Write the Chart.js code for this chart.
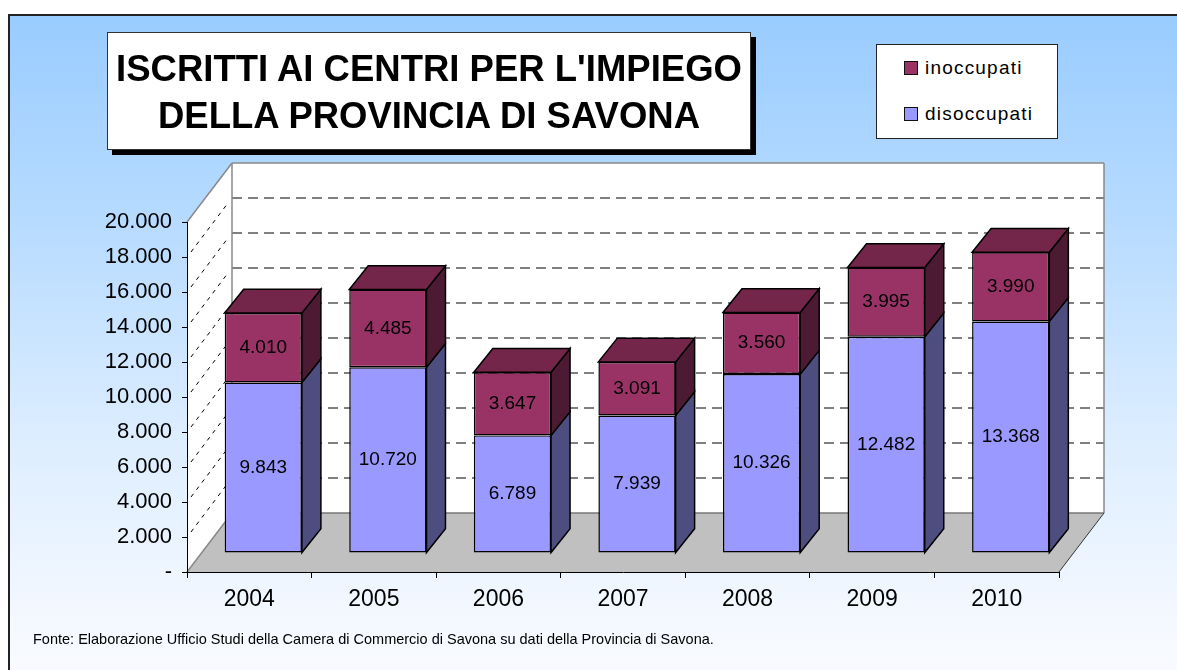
<!DOCTYPE html>
<html>
<head>
<meta charset="utf-8">
<script src="https://cdn.jsdelivr.net/npm/chart.js@4.4.0/dist/chart.umd.min.js"></script>
<style>
  html, body { margin: 0; padding: 0; background: #fff; }
  body { width: 1177px; height: 670px; position: relative; overflow: hidden;
         font-family: "Liberation Sans", Arial, sans-serif; }
  #frame { position: absolute; left: 8px; top: 14px; width: 1200px; height: 700px;
           border-left: 2px solid #222; border-top: 2px solid #222;
           background: linear-gradient(to bottom, #99ccff 0px, #b9dcff 220px, #dcedff 420px, #f6f9ff 620px, #fbfcff 700px); }
  #chart { position: absolute; left: 0; top: 0; }
  #title { position: absolute; left: 107px; top: 32px; width: 642px;
           background: #fff; border: 1px solid #333; box-shadow: 5px 5px 0 #000;
           text-align: center; font-weight: bold; font-size: 36.5px; line-height: 47px;
           padding-top: 12px; box-sizing: content-box; height: 104px; color: #000; }
  #legend { position: absolute; left: 876px; top: 44px; width: 180px; height: 93px;
            background: #fff; border: 1px solid #222; }
  .item { position: absolute; left: 27px; height: 20px; font-size: 19px; letter-spacing: 1.2px;
          line-height: 20px; color: #000; }
  .item span.sw { position: absolute; left: 0; top: 3px; width: 12px; height: 12px; border: 1.5px solid #111; }
  .item span.tx { position: absolute; left: 21px; top: 0; white-space: nowrap; }
  #fonte { position: absolute; left: 33px; top: 631px; font-size: 14.5px; color: #000; white-space: nowrap; }
</style>
</head>
<body>
<div id="frame"></div>
<canvas id="chart" width="1177" height="670"></canvas>
<div id="title">ISCRITTI AI CENTRI PER L'IMPIEGO<br>DELLA PROVINCIA DI SAVONA</div>
<div id="legend">
  <div class="item" style="top:13px"><span class="sw" style="background:#993366"></span><span class="tx">inoccupati</span></div>
  <div class="item" style="top:59px"><span class="sw" style="background:#9999ff"></span><span class="tx">disoccupati</span></div>
</div>
<div id="fonte">Fonte: Elaborazione Ufficio Studi della Camera di Commercio di Savona su dati della Provincia di Savona.</div>
<script>
// dati
const years = ['2004', '2005', '2006', '2007', '2008', '2009', '2010'];
const disoccupati = [9843, 10720, 6789, 7939, 10326, 12482, 13368];
const inoccupati = [4010, 4485, 3647, 3091, 3560, 3995, 3990];
const yMax = 20000;
const yStep = 2000;

// colori
const BLUE = '#9999ff', BLUE_SIDE = '#4d4d80';
const MAROON = '#993366', MAROON_SIDE = '#4d1a33', MAROON_TOP = '#732649';
const FONT = '"Liberation Sans", Arial, sans-serif';

// profondita' 3D (pareti e barre)
const WALL_DX = 45, WALL_DY = -59;
const BAR_DX = 14, BAR_DY = -19, BAR_SY = 0.99;
const DEPTH_DX = 19, DEPTH_DY = -24;

function fmt(v) {
  if (v === 0) return '-';
  return String(v).replace(/\B(?=(\d{3})+(?!\d))/g, '.');
}

function poly(ctx, pts, fill, stroke, lw) {
  ctx.beginPath();
  ctx.moveTo(pts[0][0], pts[0][1]);
  for (let i = 1; i < pts.length; i++) ctx.lineTo(pts[i][0], pts[i][1]);
  ctx.closePath();
  if (fill) { ctx.fillStyle = fill; ctx.fill(); }
  if (stroke) { ctx.strokeStyle = stroke; ctx.lineWidth = lw || 1; ctx.stroke(); }
}

function seg(ctx, x1, y1, x2, y2) {
  ctx.beginPath();
  ctx.moveTo(x1, y1);
  ctx.lineTo(x2, y2);
  ctx.stroke();
}

// pareti, pavimento e griglia tratteggiata
const walls = {
  id: 'walls',
  beforeDraw(chart) {
    const { ctx, chartArea: a, scales: { y } } = chart;
    const L = a.left, R = a.right, T = a.top, B = a.bottom;
    ctx.save();
    ctx.fillStyle = '#fff';
    ctx.fillRect(L + WALL_DX, T + WALL_DY, R - L, B - T);
    poly(ctx, [[L, B], [L, T], [L + WALL_DX, T + WALL_DY], [L + WALL_DX, B + WALL_DY]], '#fff');

    ctx.strokeStyle = '#000';
    ctx.lineWidth = 1;
    y.ticks.forEach(t => {
      if (t.value === 0 || t.value === yMax) return;
      const py = y.getPixelForValue(t.value);
      ctx.setLineDash([10, 6]);
      seg(ctx, L + WALL_DX, py + WALL_DY, R + WALL_DX, py + WALL_DY);
      ctx.setLineDash([4, 5]);
      seg(ctx, L + 4, py - 5, L + WALL_DX - 4, py + WALL_DY + 5);
    });
    ctx.setLineDash([]);

    poly(ctx, [[L, B], [R, B], [R + WALL_DX, B + WALL_DY], [L + WALL_DX, B + WALL_DY]], '#c0c0c0');

    ctx.strokeStyle = '#888';
    ctx.lineWidth = 1.5;
    seg(ctx, L + WALL_DX, T + WALL_DY, R + WALL_DX, T + WALL_DY);
    seg(ctx, R + WALL_DX, T + WALL_DY, R + WALL_DX, B + WALL_DY);
    seg(ctx, L + WALL_DX, T + WALL_DY, L + WALL_DX, B + WALL_DY);
    seg(ctx, L, T, L + WALL_DX, T + WALL_DY);
    seg(ctx, L, B, L + WALL_DX, B + WALL_DY);
    ctx.strokeStyle = '#777';
    seg(ctx, L + WALL_DX, B + WALL_DY, R + WALL_DX, B + WALL_DY);
    ctx.strokeStyle = '#333';
    ctx.lineWidth = 1;
    seg(ctx, R, B, R + WALL_DX, B + WALL_DY);
    ctx.restore();
  }
};

// barre spostate in profondita', facce laterali/superiori ed etichette
const bars3d = {
  id: 'bars3d',
  beforeDatasetsDraw(chart) {
    const { ctx, scales: { y } } = chart;
    const base = y.getPixelForValue(0);
    ctx.save();
    ctx.translate(BAR_DX, BAR_DY + base * (1 - BAR_SY));
    ctx.scale(1, BAR_SY);
  },
  afterDatasetsDraw(chart) {
    const ctx = chart.ctx;
    const n = chart.data.datasets.length;
    const sides = [BLUE_SIDE, MAROON_SIDE];
    const labels = [];
    chart.data.datasets.forEach((ds, d) => {
      const meta = chart.getDatasetMeta(d);
      meta.data.forEach((el, i) => {
        const { x, y: top, base, width } = el.getProps(['x', 'y', 'base', 'width'], true);
        const left = x - width / 2, right = x + width / 2;
        poly(ctx, [[right, top], [right + DEPTH_DX, top + DEPTH_DY],
                   [right + DEPTH_DX, base + DEPTH_DY], [right, base]], sides[d], '#000', 1.5);
        if (d === n - 1) {
          poly(ctx, [[left, top], [left + DEPTH_DX, top + DEPTH_DY],
                     [right + DEPTH_DX, top + DEPTH_DY], [right, top]], MAROON_TOP, '#000', 1.5);
        }
        labels.push([fmt(ds.data[i]), x, (top + base) / 2]);
      });
    });
    ctx.fillStyle = '#000';
    ctx.font = '19px ' + FONT;
    ctx.textAlign = 'center';
    ctx.textBaseline = 'middle';
    labels.forEach(([t, x, y]) => ctx.fillText(t, x, y));
    ctx.restore();
  }
};

new Chart(document.getElementById('chart'), {
  type: 'bar',
  data: {
    labels: years,
    datasets: [
      { label: 'disoccupati', data: disoccupati, backgroundColor: BLUE,
        borderColor: '#000', borderWidth: 1.5, borderSkipped: false },
      { label: 'inoccupati', data: inoccupati, backgroundColor: MAROON,
        borderColor: '#000', borderWidth: 1.5, borderSkipped: false }
    ]
  },
  options: {
    responsive: false,
    animation: false,
    events: [],
    layout: { padding: { left: 77, right: 118, top: 222, bottom: 48 } },
    datasets: { bar: { categoryPercentage: 1, barPercentage: 0.62 } },
    plugins: { legend: { display: false }, tooltip: { enabled: false } },
    scales: {
      x: {
        stacked: true,
        ticks: { color: '#000', font: { size: 23, family: FONT }, padding: 8 },
        grid: { drawOnChartArea: false, tickLength: 6, color: '#000', offset: true },
        border: { display: true, color: '#000', width: 1 },
        afterFit(s) { s.height = 50; }
      },
      y: {
        stacked: true,
        min: 0,
        max: yMax,
        ticks: { stepSize: yStep, callback: v => fmt(v), color: '#000',
                 font: { size: 22, family: FONT }, padding: 10 },
        grid: { drawOnChartArea: false, tickLength: 5, color: '#000' },
        border: { display: true, color: '#000', width: 1 },
        afterFit(s) { s.width = 110; }
      }
    }
  },
  plugins: [walls, bars3d]
});
</script>
</body>
</html>
